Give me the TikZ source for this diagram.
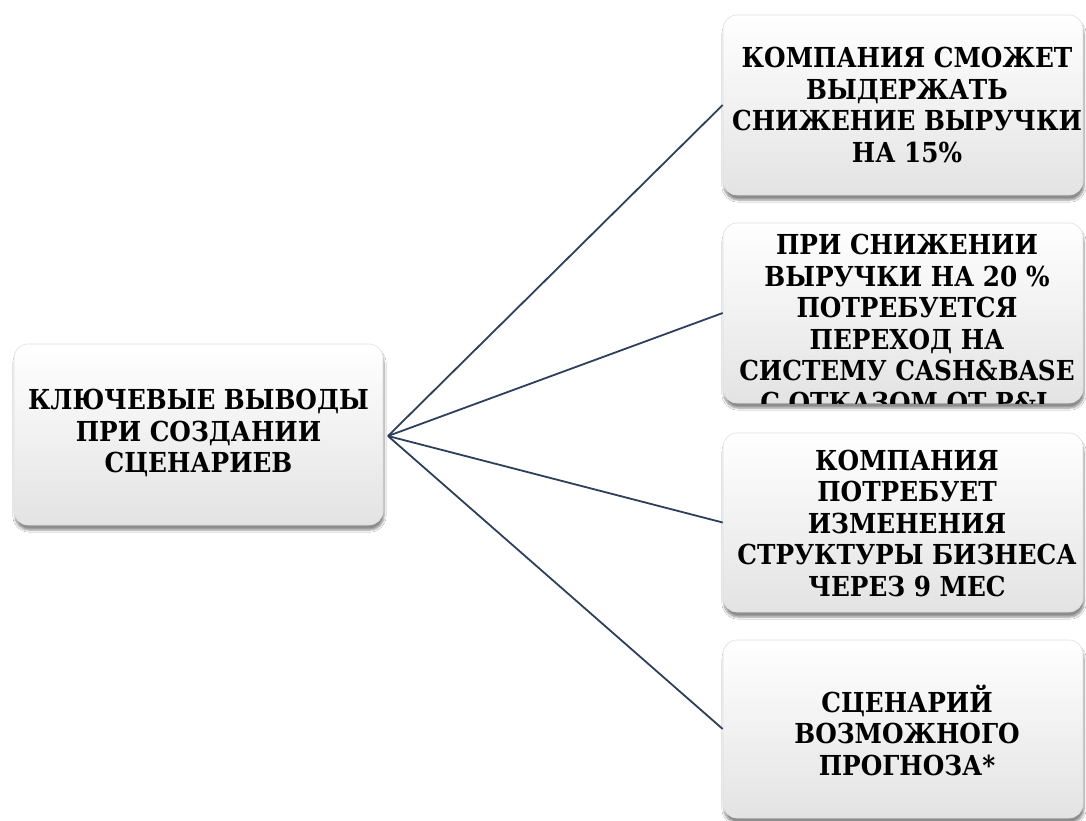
\documentclass[tikz,border=0pt]{standalone}
\usepackage{fontspec}
\setmainfont{DejaVu Serif}
\newfontfamily\tnrbold{DejaVu Serif Condensed}[BoldFont={DejaVu Serif Condensed Bold}]
\usetikzlibrary{shadows.blur}
\definecolor{linkcol}{HTML}{2E3F5C}
\tikzset{
  box/.style={draw=gray!25, line width=0.6pt, rounded corners=14pt, top color=white, bottom color=gray!22,
    blur shadow={shadow xshift=1pt, shadow yshift=-5pt, shadow blur steps=6, shadow blur extra rounding=2pt, shadow opacity=45},
    inner sep=0pt},
  label/.style={align=center, font=\tnrbold\bfseries\fontsize{27.5}{31.5}\selectfont, inner sep=0pt},
  link/.style={draw=linkcol, line width=1.8pt}
}
\begin{document}
\begin{tikzpicture}[x=1pt,y=-1pt]
\useasboundingbox (0,0) rectangle (1086,821);
\fill[white] (0,0) rectangle (1086,821);
% boxes
\node[box, minimum width=369pt, minimum height=181pt] (root) at (198.5,434.5) {};
\node[box, minimum width=360pt, minimum height=180pt] (b1) at (903,105) {};
\node[box, minimum width=360pt, minimum height=180pt] (b2) at (903,313) {};
\node[box, minimum width=360pt, minimum height=179pt] (b3) at (903,522.5) {};
\node[box, minimum width=360pt, minimum height=178pt] (b4) at (903,729) {};
% connectors
\coordinate (hub) at (388,436);
\draw[link] (hub) -- (b1.west);
\draw[link] (hub) -- (b2.west);
\draw[link] (hub) -- (b3.west);
\draw[link] (hub) -- (b4.west);
% texts
\node[label] (t0) at (198.5,433) {КЛЮЧЕВЫЕ ВЫВОДЫ\\ПРИ СОЗДАНИИ\\СЦЕНАРИЕВ};
\node[label] (t1) at (907,105) {КОМПАНИЯ СМОЖЕТ\\ВЫДЕРЖАТЬ\\СНИЖЕНИЕ ВЫРУЧКИ\\НА 15\%};
\begin{scope}
\clip[rounded corners=14pt] (b2.south west) rectangle (b2.north east);
\node[label, anchor=north] (t2) at (907,234) {ПРИ СНИЖЕНИИ\\ВЫРУЧКИ НА 20 \%\\ПОТРЕБУЕТСЯ\\ПЕРЕХОД НА\\СИСТЕМУ CASH\&BASE\\С ОТКАЗОМ ОТ P\&L};
\end{scope}
\node[label] (t3) at (907,523) {КОМПАНИЯ\\ПОТРЕБУЕТ\\ИЗМЕНЕНИЯ\\СТРУКТУРЫ БИЗНЕСА\\ЧЕРЕЗ 9 МЕС};
\node[label] (t4) at (907,730) {СЦЕНАРИЙ\\ВОЗМОЖНОГО\\ПРОГНОЗА*};
\end{tikzpicture}
\end{document}
